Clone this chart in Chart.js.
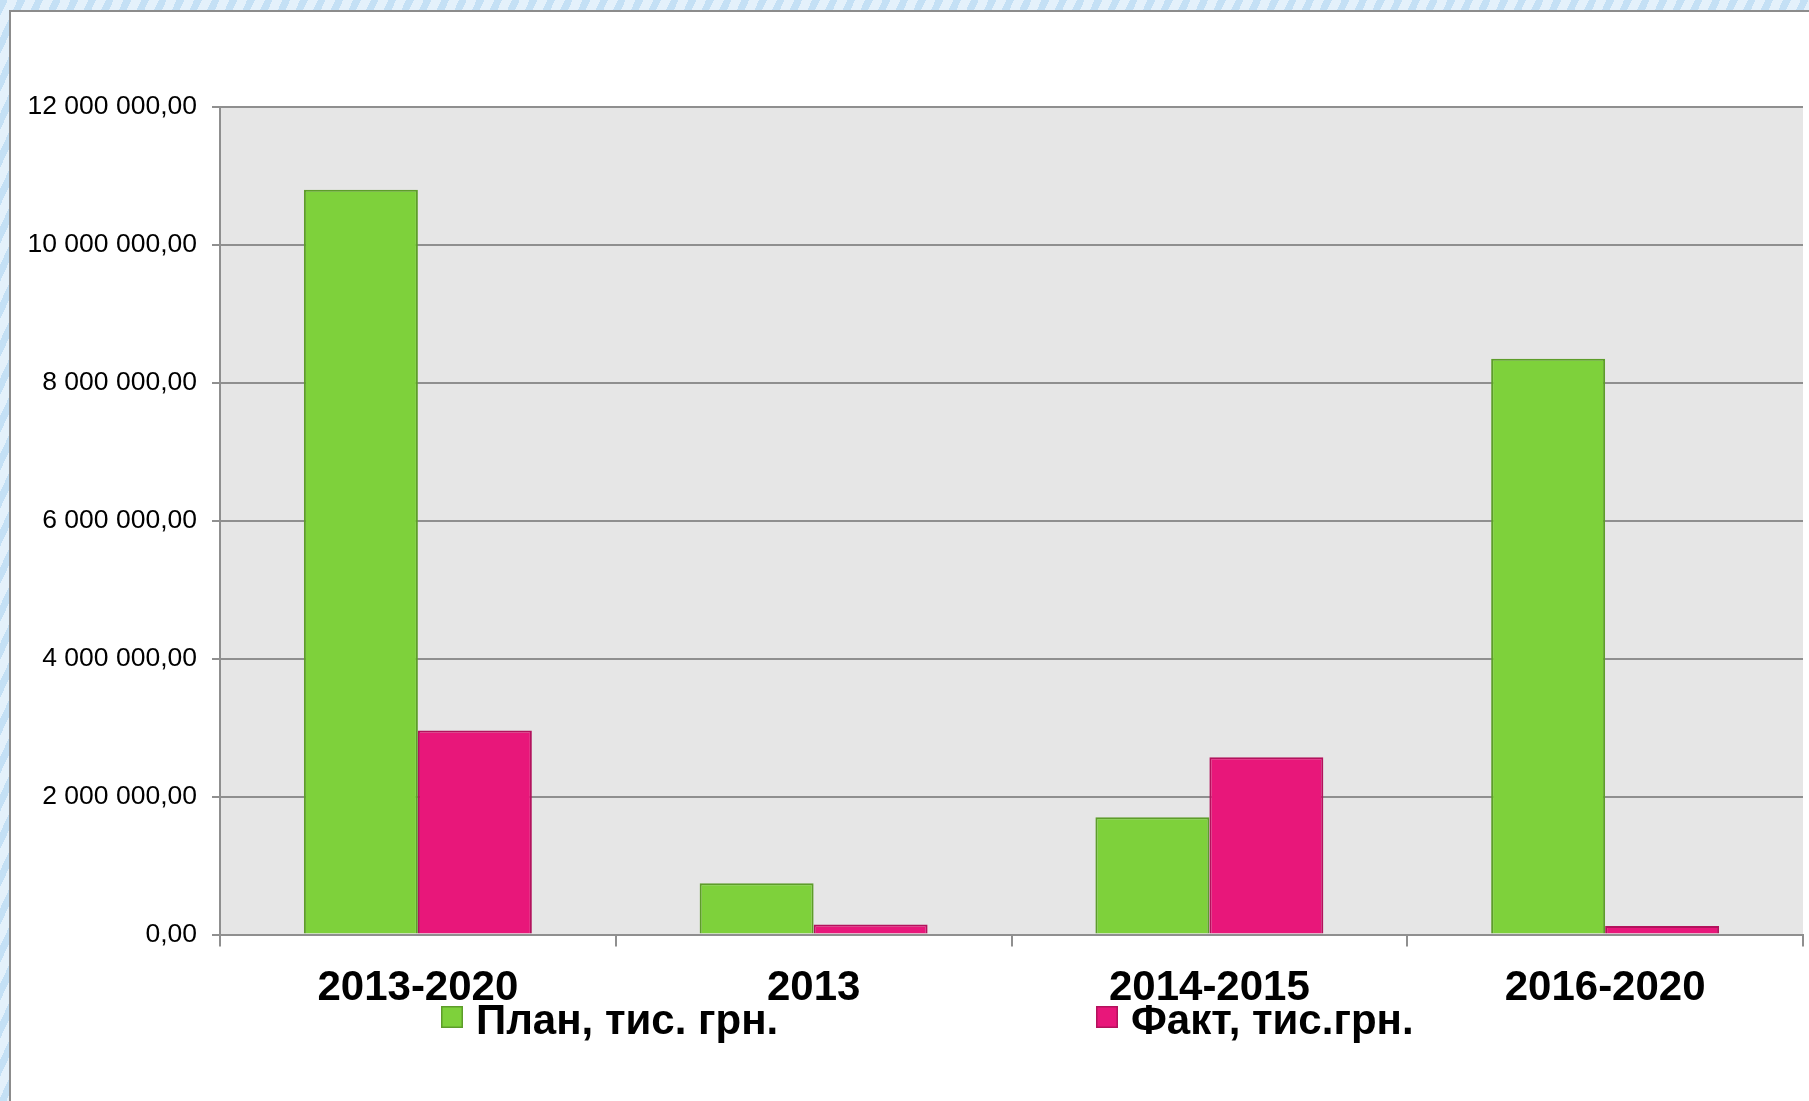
<!DOCTYPE html>
<html>
<head>
<meta charset="utf-8">
<script src="https://cdn.jsdelivr.net/npm/chart.js@4/dist/chart.umd.min.js"></script>
<style>
html, body { margin: 0; padding: 0; }
body {
	width: 1809px; height: 1101px; overflow: hidden; position: relative;
	background: repeating-linear-gradient(115deg, #c4e0f5 0px, #c4e0f5 7px, #e4f1fb 7px, #e4f1fb 16px);
}
#panel {
	position: absolute; left: 9px; top: 10px; width: 1820px; height: 1110px;
	background: #fff; border: 2px solid #8c8c8c;
}
#chart { position: absolute; left: 0; top: 0; }
</style>
</head>
<body>
<div id="panel"></div>
<canvas id="chart" width="1809" height="1101"></canvas>
<script>
/*************************
DATA
*************************/

const categories = ['2013-2020', '2013', '2014-2015', '2016-2020'];
const planValues = [10800000, 745000, 1700000, 8350000];
const factValues = [2960000, 145000, 2570000, 125000];
const seriesNames = ['План, тис. грн.', 'Факт, тис.грн.'];

//colours
const greenFill = '#7ed13b';
const greenBorder = '#5d9d2a';
const pinkFill = '#e8177a';
const pinkBorder = '#b3125d';
const gridColor = '#8f8f8f';
const fontName = '"Liberation Sans", Arial, sans-serif';

//formats 12000000 as "12 000 000,00"
function FormatTick(value){
	return Math.round(value).toString().replace(/\B(?=(\d{3})+(?!\d))/g, ' ') + ',00';
}

//grey plot background
const plotBackground = {
	id: 'plotBackground',
	beforeDraw(chart){
		const {ctx, chartArea} = chart;
		ctx.save();
		ctx.fillStyle = '#e6e6e6';
		ctx.fillRect(chartArea.left, chartArea.top, chartArea.right - chartArea.left, chartArea.bottom - chartArea.top);
		ctx.restore();
	}
};

//legend spread out under the axis like in the original
const spreadLegend = {
	id: 'spreadLegend',
	afterDraw(chart){
		const ctx = chart.ctx;
		const starts = [441 / 1809, 1096 / 1809];
		ctx.save();
		ctx.font = 'bold 42px ' + fontName;
		ctx.textBaseline = 'alphabetic';
		chart.data.datasets.forEach((ds, i) => {
			const x = starts[i] * chart.width;
			ctx.fillStyle = ds.backgroundColor;
			ctx.strokeStyle = ds.borderColor;
			ctx.lineWidth = 1.5;
			ctx.fillRect(x, 1006, 22, 22);
			ctx.strokeRect(x + 0.75, 1006.75, 20.5, 20.5);
			ctx.fillStyle = '#000';
			ctx.fillText(ds.label, x + 35, 1034);
		});
		ctx.restore();
	}
};

const barCanvas = document.querySelector('#chart').getContext('2d');

const barGraph = new Chart(barCanvas, {
	type: 'bar',
	data: {
		labels: categories,
		datasets: [{
			label: seriesNames[0],
			data: planValues,
			backgroundColor: greenFill,
			borderColor: greenBorder,
			borderWidth: 2,
		}, {
			label: seriesNames[1],
			data: factValues,
			backgroundColor: pinkFill,
			borderColor: pinkBorder,
			borderWidth: 2,
		}]
	},
	options: {
		responsive: false,
		animation: false,
		layout: {padding: {top: 107, right: 6, bottom: 0, left: 0}},
		datasets: {bar: {barPercentage: 1, categoryPercentage: 0.576}},
		plugins: {
			legend: {display: false},
			tooltip: {enabled: false},
		},
		scales: {
			x: {
				grid: {drawOnChartArea: false, drawTicks: true, tickLength: 12, color: gridColor, lineWidth: 2},
				border: {color: gridColor, width: 2},
				ticks: {color: '#000', padding: 17, font: {family: fontName, size: 42, weight: 'bold'}},
				afterFit(scale){ scale.height = 166.5; },
			},
			y: {
				min: 0,
				max: 12000000,
				grid: {color: gridColor, lineWidth: 2, tickLength: 8},
				border: {color: gridColor, width: 2},
				ticks: {
					stepSize: 2000000,
					color: '#000',
					padding: 15,
					font: {family: fontName, size: 26.5},
					callback: (value) => FormatTick(value),
				},
				afterFit(scale){ scale.width = 220; },
			}
		}
	},
	plugins: [plotBackground, spreadLegend],
});
</script>
</body>
</html>
